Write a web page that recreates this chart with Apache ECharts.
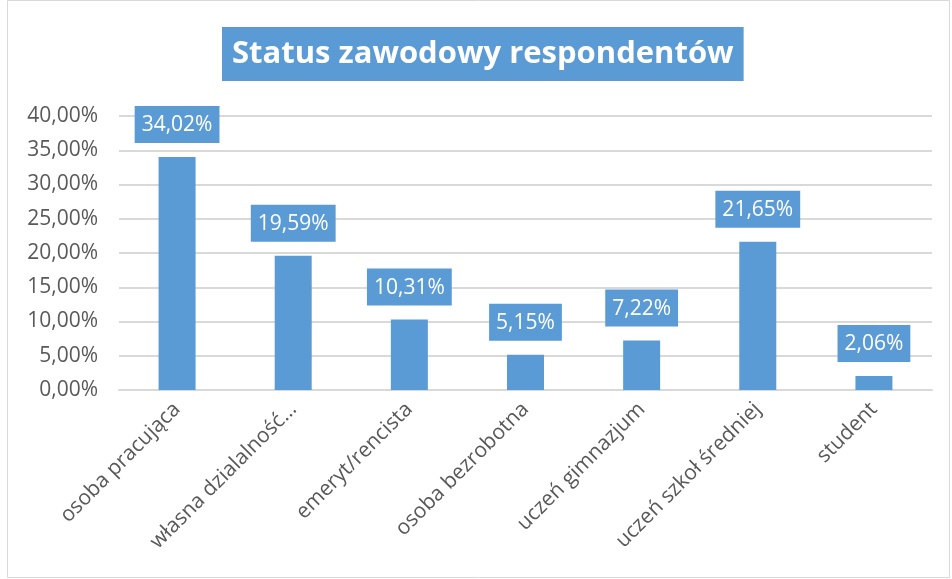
<!DOCTYPE html>
<html>
<head>
<meta charset="utf-8">
<script src="https://cdn.jsdelivr.net/npm/echarts@6/dist/echarts.min.js"></script>
<style>
  html, body { margin: 0; padding: 0; background: #fff; }
  #chart { width: 952px; height: 579px; }
</style>
</head>
<body>
<div id="chart"></div>
<script>
const categories = [
  "osoba pracująca",
  "własna dzialalność…",
  "emeryt/rencista",
  "osoba bezrobotna",
  "uczeń gimnazjum",
  "uczeń szkoł średniej",
  "student",
];
const values = [34.02, 19.59, 10.31, 5.15, 7.22, 21.65, 2.06];

const blue = "#5B9BD5";
const font = "Open Sans";

// format jak w Excelu: przecinek dziesiętny
function pct(v) {
  return v.toFixed(2).replace(".", ",") + "%";
}

const chart = echarts.init(document.getElementById("chart"), null, { renderer: "canvas" });

chart.setOption({
  animation: false,
  textStyle: { fontFamily: font },
  title: {
    text: "Status zawodowy respondentów",
    left: 222,
    top: 27,
    backgroundColor: blue,
    padding: [12, 10, 11, 10],
    textStyle: {
      color: "#fff",
      fontSize: 31,
      fontWeight: "bold",
      fontFamily: font,
    },
  },
  graphic: [
    {
      type: "rect",
      shape: { x: 7.5, y: 0.5, width: 942, height: 577 },
      style: { fill: "none", stroke: "#d9d9d9", lineWidth: 1 },
      silent: true,
    },
  ],
  grid: {
    left: 119,
    right: 20,
    top: 116,
    bottom: 189,
  },
  xAxis: {
    type: "category",
    data: categories,
    axisTick: { show: false },
    axisLine: { lineStyle: { color: "#d9d9d9", width: 2 } },
    axisLabel: {
      rotate: 45,
      interval: 0,
      color: "#595959",
      fontSize: 21,
      margin: 16,
      fontFamily: font,
    },
  },
  yAxis: {
    type: "value",
    min: 0,
    max: 40,
    interval: 5,
    axisLine: { show: false },
    axisTick: { show: false },
    splitLine: { lineStyle: { color: "#d9d9d9", width: 2 } },
    axisLabel: {
      color: "#595959",
      fontSize: 21,
      margin: 21,
      fontFamily: font,
      formatter: (v) => pct(v),
    },
  },
  series: [
    {
      type: "bar",
      data: values,
      barWidth: 37,
      itemStyle: { color: blue },
      label: {
        show: true,
        position: "top",
        distance: 14,
        formatter: (p) => pct(p.value),
        color: "#fff",
        fontSize: 21,
        fontFamily: font,
        backgroundColor: blue,
        padding: [9, 7, 7, 7],
      },
    },
  ],
});
</script>
</body>
</html>
